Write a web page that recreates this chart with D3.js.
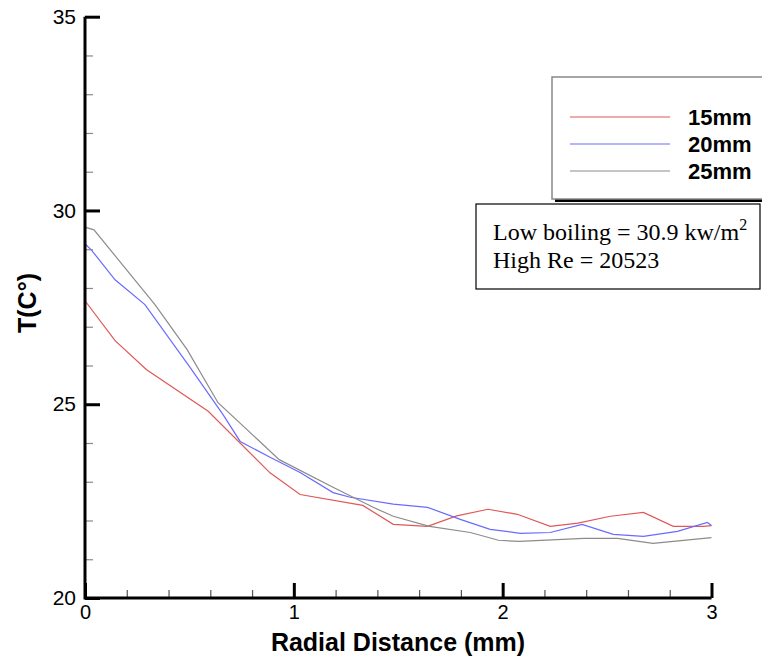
<!DOCTYPE html>
<html>
<head>
<meta charset="utf-8">
<script src="https://cdn.jsdelivr.net/npm/d3@7"></script>
<style>
  body { margin: 0; background: #fff; }
  svg { display: block; font-family: Arial, "Liberation Sans", sans-serif; }
</style>
</head>
<body>
<svg id="chart" width="762" height="658"></svg>
<script>
// series: radial distance (mm) and temperature (C)
const x15 = [0, 0.144, 0.295, 0.59, 0.886, 1.03, 1.33, 1.476, 1.64, 1.78, 1.93, 2.07, 2.228, 2.36, 2.516, 2.674, 2.817, 2.96, 3.0];
const t15 = [27.67, 26.64, 25.89, 24.82, 23.23, 22.67, 22.39, 21.90, 21.85, 22.12, 22.29, 22.16, 21.85, 21.93, 22.11, 22.21, 21.85, 21.85, 21.87];

const x20 = [0, 0.032, 0.144, 0.287, 0.503, 0.661, 0.743, 0.886, 1.03, 1.188, 1.27, 1.476, 1.64, 1.797, 1.94, 2.084, 2.228, 2.38, 2.53, 2.674, 2.837, 2.98, 3.0];
const t20 = [29.14, 28.97, 28.21, 27.57, 25.95, 24.73, 24.04, 23.63, 23.24, 22.72, 22.6, 22.42, 22.34, 22.03, 21.77, 21.67, 21.69, 21.9, 21.64, 21.59, 21.72, 21.95, 21.87];

const x25 = [0, 0.043, 0.335, 0.489, 0.637, 0.93, 1.19, 1.38, 1.476, 1.65, 1.845, 1.98, 2.08, 2.39, 2.55, 2.72, 3.0];
const t25 = [29.57, 29.5, 27.57, 26.41, 25.04, 23.57, 22.85, 22.34, 22.11, 21.85, 21.69, 21.49, 21.46, 21.54, 21.54, 21.41, 21.56];

const seriesNames = ["15mm", "20mm", "25mm"];
const seriesColors = ["#e05858", "#6a6aff", "#8c8c8c"];
const xMajor = [0, 1, 2, 3];
const yMajor = [20, 25, 30, 35];

const svg = d3.select("#chart");

const x = d3.scaleLinear().domain([0, 3]).range([85, 711.5]);
const y = d3.scaleLinear().domain([20, 35]).range([598, 16.7]);

const series = [
  { name: seriesNames[0], color: seriesColors[0], pts: d3.zip(x15, t15) },
  { name: seriesNames[1], color: seriesColors[1], pts: d3.zip(x20, t20) },
  { name: seriesNames[2], color: seriesColors[2], pts: d3.zip(x25, t25) }
];

const line = d3.line()
  .x(d => x(d[0]))
  .y(d => y(d[1]));

// lines
svg.append("g")
  .selectAll("path")
  .data(series)
  .enter()
  .append("path")
  .attr("d", d => line(d.pts))
  .attr("fill", "none")
  .attr("stroke", d => d.color)
  .attr("stroke-width", 1.2);

// minor ticks (pointing inward)
const yMinor = svg.append("g")
  .attr("transform", `translate(${x(0)},0)`)
  .call(d3.axisLeft(y).tickValues(d3.range(21, 35).filter(v => v % 5 !== 0)).tickSize(-8).tickFormat(""));
yMinor.select(".domain").remove();
yMinor.selectAll("line").attr("stroke", "#8a8a8a").attr("stroke-width", 1.2);

const xMinor = svg.append("g")
  .attr("transform", `translate(0,${y(20)})`)
  .call(d3.axisBottom(x).tickValues(d3.range(1, 15).filter(v => v % 5 !== 0).map(v => v / 5)).tickSize(-8).tickFormat(""));
xMinor.select(".domain").remove();
xMinor.selectAll("line").attr("stroke", "#555").attr("stroke-width", 1.2);

// major ticks + labels
const yAxis = svg.append("g")
  .attr("transform", `translate(${x(0)},0)`)
  .call(d3.axisLeft(y).tickValues(yMajor).tickSize(-15).tickPadding(9).tickFormat(d3.format("d")));
yAxis.select(".domain").remove();
yAxis.selectAll("line").attr("stroke", "#000").attr("stroke-width", 3);
yAxis.selectAll("text").attr("font-size", 21).attr("fill", "#000").attr("font-family", "Arial, 'Liberation Sans', sans-serif");

const xAxis = svg.append("g")
  .attr("transform", `translate(0,${y(20)})`)
  .call(d3.axisBottom(x).tickValues(xMajor).tickSize(-15).tickPadding(7).tickFormat(d3.format("d")));
xAxis.select(".domain").remove();
xAxis.selectAll("line").attr("stroke", "#000").attr("stroke-width", 3);
xAxis.selectAll("text").attr("font-size", 20).attr("fill", "#000").attr("font-family", "Arial, 'Liberation Sans', sans-serif");

// axis lines
svg.append("path")
  .attr("d", `M${x(0)},${y(35)}V${y(20)}H${x(3)}`)
  .attr("fill", "none")
  .attr("stroke", "#000")
  .attr("stroke-width", 3);

// axis titles
svg.append("text")
  .attr("x", 398)
  .attr("y", 651)
  .attr("text-anchor", "middle")
  .attr("font-size", 25)
  .attr("font-weight", "bold")
  .text("Radial Distance (mm)");

svg.append("text")
  .attr("transform", "translate(36,303) rotate(-90)")
  .attr("text-anchor", "middle")
  .attr("font-size", 25)
  .attr("font-weight", "bold")
  .text("T(C°)");

// legend
const lg = svg.append("g");
lg.append("rect")
  .attr("x", 555).attr("y", 80).attr("width", 220).attr("height", 122)
  .attr("fill", "#000");
lg.append("rect")
  .attr("x", 552).attr("y", 77).attr("width", 220).attr("height", 122)
  .attr("fill", "#fff").attr("stroke", "#888").attr("stroke-width", 1.5);

const legendY = d3.scalePoint().domain(seriesNames).range([117, 171]);
const items = lg.selectAll(".item")
  .data(series)
  .enter()
  .append("g");
items.append("line")
  .attr("x1", 570).attr("x2", 670)
  .attr("y1", d => legendY(d.name)).attr("y2", d => legendY(d.name))
  .attr("stroke", d => d.color)
  .attr("stroke-width", 1.2);
items.append("text")
  .attr("x", 688)
  .attr("y", d => legendY(d.name) + 8)
  .attr("font-size", 22)
  .attr("font-weight", "bold")
  .text(d => d.name);

// annotation
const note = svg.append("g");
note.append("rect")
  .attr("x", 476).attr("y", 204).attr("width", 284).attr("height", 85)
  .attr("fill", "#fff").attr("stroke", "#000").attr("stroke-width", 1.2);
const t1 = note.append("text")
  .attr("x", 493).attr("y", 240)
  .attr("font-family", "'Liberation Serif', 'Times New Roman', serif")
  .attr("font-size", 24);
t1.append("tspan").text("Low boiling = 30.9 kw/m");
t1.append("tspan").attr("font-size", 16).attr("dy", -10).text("2");
note.append("text")
  .attr("x", 493).attr("y", 268)
  .attr("font-family", "'Liberation Serif', 'Times New Roman', serif")
  .attr("font-size", 24)
  .text("High Re = 20523");
</script>
</body>
</html>
